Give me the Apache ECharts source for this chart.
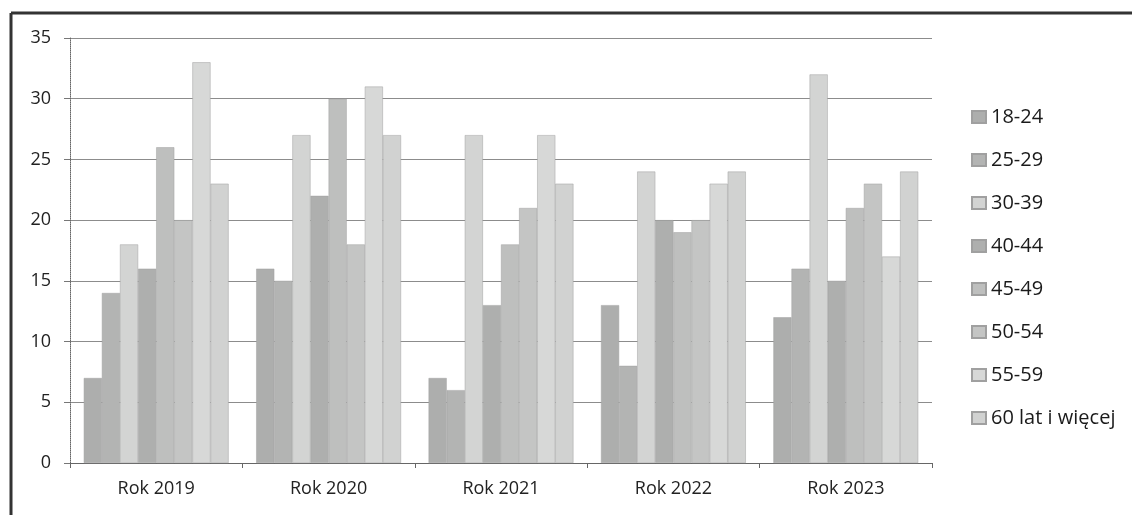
<!DOCTYPE html>
<html><head><meta charset="utf-8">
<script src="https://cdn.jsdelivr.net/npm/echarts@6/dist/echarts.min.js"></script>
<style>html,body{margin:0;padding:0;background:#fff}#c{width:1132px;height:515px}</style>
</head><body><div id="c"></div>
<script>
const categories = ['Rok 2019','Rok 2020','Rok 2021','Rok 2022','Rok 2023'];
const seriesNames = ['18-24','25-29','30-39','40-44','45-49','50-54','55-59','60 lat i więcej'];
const s1824 = [7,16,7,13,12];
const s2529 = [14,15,6,8,16];
const s3039 = [18,27,27,24,32];
const s4044 = [16,22,13,20,15];
const s4549 = [26,30,18,19,21];
const s5054 = [20,18,21,20,23];
const s5559 = [33,31,27,23,17];
const s60 = [23,27,23,24,24];
const yTicks = [0,5,10,15,20,25,30,35];
const colors = ['#adaead','#b3b4b3','#d3d4d3','#aeafae','#bebfbe','#c4c5c4','#d7d8d7','#d1d2d1'];
const allData = [s1824,s2529,s3039,s4044,s4549,s5054,s5559,s60];

const chart = echarts.init(document.getElementById('c'));
chart.setOption({
  animation:false,
  color: colors,
  grid:{left:70,right:200,top:38,bottom:52},
  legend:{
    orient:'vertical', left:966, top:100, itemGap:19,
    itemWidth:14, itemHeight:12, icon:'rect',
    textStyle:{fontFamily:'Open Sans',fontSize:20,lineHeight:24,color:'#1a1a1a'},
    data: seriesNames
  },
  xAxis:{
    type:'category', data:categories,
    axisLine:{lineStyle:{color:'#666'}},
    axisTick:{show:true,length:5,lineStyle:{color:'#666'}},
    axisLabel:{fontFamily:'Open Sans',fontSize:18,color:'#222',margin:17}
  },
  yAxis:{
    type:'value', min:yTicks[0], max:yTicks[yTicks.length-1], interval:5,
    axisLine:{show:true,lineStyle:{color:'#666',type:'dotted'}},
    axisTick:{show:true,length:6,lineStyle:{color:'#777'}},
    axisLabel:{fontFamily:'Open Sans',fontSize:18,color:'#222',margin:19},
    splitLine:{lineStyle:{color:'#8c8c8c'}}
  },
  graphic:[
    {type:'line',shape:{x1:11,y1:13,x2:1132,y2:13},style:{stroke:'#333',lineWidth:3}},
    {type:'line',shape:{x1:11,y1:13,x2:11,y2:515},style:{stroke:'#333',lineWidth:3}}
  ],
  series: seriesNames.map((n,i)=>({
    name:n, type:'bar', data:allData[i],
    barGap:'0%', barCategoryGap:'16%',
    itemStyle:{borderColor:'#a0a0a0',borderWidth:0.5}
  }))
});
</script></body></html>
